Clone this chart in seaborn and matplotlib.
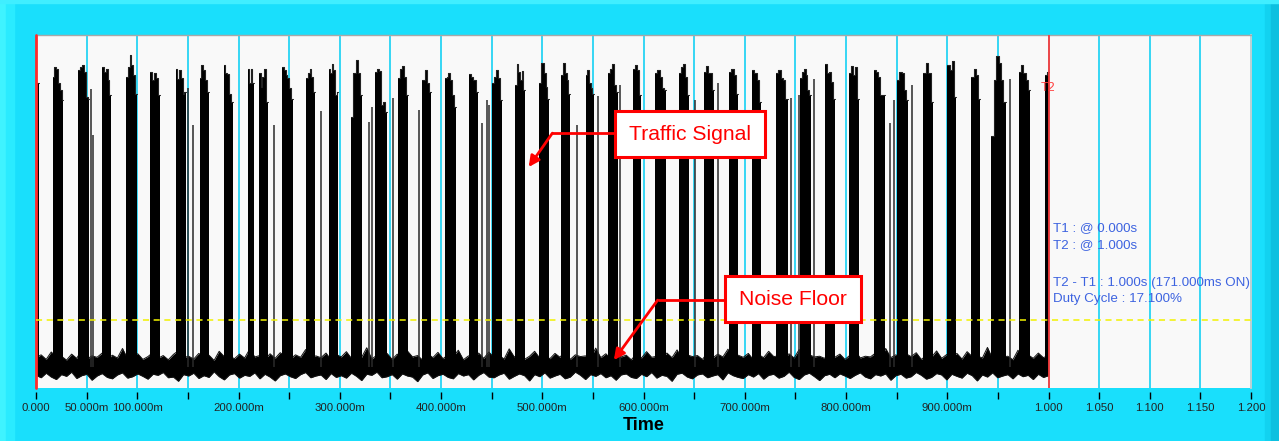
import numpy as np
import pandas as pd
import matplotlib
matplotlib.use("Agg")
import matplotlib.pyplot as plt
import seaborn as sns
from matplotlib.patches import Rectangle

# ---------------- data ----------------
tick_values = [0.0, 0.05, 0.10, 0.15, 0.20, 0.25, 0.30, 0.35, 0.40, 0.45, 0.50, 0.55,
               0.60, 0.65, 0.70, 0.75, 0.80, 0.85, 0.90, 0.95, 1.00, 1.05, 1.10, 1.15, 1.20]
tick_labels = ["0.000", "50.000m", "100.000m", "", "200.000m", "", "300.000m", "",
               "400.000m", "", "500.000m", "", "600.000m", "", "700.000m", "", "800.000m", "",
               "900.000m", "", "1.000", "1.050", "1.100", "1.150", "1.200"]

burst_start = [0.0000, 0.0165, 0.0418, 0.0653, 0.0890, 0.1128, 0.1378, 0.1615, 0.1853, 0.2090,
               0.2203, 0.2430, 0.2668, 0.2891, 0.3116, 0.3353, 0.3578, 0.3815, 0.4039, 0.4276,
               0.4500, 0.4731, 0.4968, 0.5190, 0.5430, 0.5651, 0.5892, 0.6116, 0.6353, 0.6600,
               0.6848, 0.7072, 0.7310, 0.7547, 0.7797, 0.8034, 0.8272, 0.8506, 0.8761, 0.9001,
               0.9238, 0.9436, 0.9710, 0.9963]
burst_end = [0.0030, 0.0270, 0.0527, 0.0742, 0.0996, 0.1226, 0.1484, 0.1704, 0.1942, 0.2149,
             0.2288, 0.2535, 0.2753, 0.2984, 0.3215, 0.3469, 0.3677, 0.3904, 0.4144, 0.4365,
             0.4606, 0.4830, 0.5067, 0.5275, 0.5512, 0.5744, 0.5974, 0.6222, 0.6452, 0.6699,
             0.6930, 0.7161, 0.7425, 0.7656, 0.7896, 0.8127, 0.8381, 0.8612, 0.8860, 0.9090,
             0.9327, 0.9578, 0.9815, 1.0000]
burst_tops = [
    [86.4],
    [88.2, 91.0, 90.5, 86.3, 84.4, 81.6],
    [90.1, 90.8, 91.5, 89.6, 82.5, 82.0],
    [90.9, 89.6, 90.5, 87.3, 83.0],
    [88.2, 90.8, 94.3, 91.5, 88.7, 83.4],
    [89.6, 87.3, 89.3, 87.9, 83.0],
    [90.5, 87.5, 90.1, 87.9, 83.4, 83.9],
    [87.9, 91.5, 90.1, 87.3, 83.9],
    [91.5, 89.1, 88.9, 83.4, 81.1],
    [90.5, 86.3, 90.5, 86.3],
    [89.1, 85.3, 88.2, 90.5, 81.1],
    [90.8, 90.1, 88.7, 87.9, 85.1, 81.8],
    [87.9, 89.1, 90.5, 88.2, 83.9],
    [90.3, 89.1, 91.8, 90.1, 83.0, 83.9],
    [76.8, 89.1, 92.9, 89.1, 83.0],
    [89.6, 90.3, 89.9, 80.2, 81.1, 78.3],
    [87.9, 90.5, 91.2, 88.2, 83.0],
    [87.3, 90.1, 86.3, 83.9],
    [87.9, 88.2, 89.1, 87.3, 83.0, 79.7],
    [88.9, 88.2, 87.3, 83.9],
    [86.3, 88.2, 90.1, 87.9, 81.6],
    [85.8, 91.8, 89.6, 87.3, 89.9, 84.4],
    [86.3, 92.0, 92.2, 89.1, 85.3, 82.0],
    [88.7, 92.0, 89.1, 87.3, 83.4],
    [88.7, 90.1, 86.3, 84.9, 83.4],
    [89.1, 90.5, 91.8, 85.8, 83.9],
    [90.5, 91.5, 90.1, 83.0],
    [89.1, 90.1, 88.2, 84.9, 84.4],
    [89.1, 90.8, 91.8, 88.2, 83.0],
    [89.6, 91.2, 89.1, 89.1, 84.4],
    [89.6, 90.5, 88.7, 83.4],
    [90.1, 89.1, 87.3, 81.1],
    [89.1, 90.1, 87.9, 87.3, 81.8],
    [87.9, 89.6, 90.3, 88.7, 84.4, 83.0],
    [91.8, 89.1, 89.6, 86.8, 81.8],
    [89.1, 91.2, 88.7, 91.0, 81.8],
    [90.1, 89.6, 88.2, 83.0, 83.0],
    [87.3, 89.6, 89.1, 84.4, 81.6],
    [89.1, 92.2, 89.1, 81.1],
    [91.5, 90.1, 92.7, 82.5],
    [88.2, 90.3, 88.7, 81.8],
    [71.3, 87.3, 94.0, 92.0, 87.3, 81.1],
    [89.6, 91.5, 89.1, 87.3, 84.4],
    [88.7, 89.5],
]

spike_t = [0.0544, 0.0564, 0.1503, 0.1553, 0.2354, 0.2819, 0.3284, 0.3314, 0.3528, 0.3781,
           0.4409, 0.4458, 0.4474, 0.5341, 0.5546, 0.5767, 0.6508, 0.6733, 0.7458, 0.7537,
           0.7688, 0.8430, 0.8470, 0.8655, 0.9617]
spike_level = [84.7, 71.7, 85.0, 74.5, 74.5, 78.5, 75.4, 79.6, 82.2, 78.8,
               75.1, 81.6, 80.2, 74.5, 82.7, 85.8, 81.6, 86.4, 82.2, 83.0,
               87.5, 75.1, 81.6, 85.8, 87.5]

noise_hi = [
    8.6, 9.4, 8.1, 10.2, 8.8, 9.0, 7.9, 9.6, 8.4, 10.8, 8.2, 9.1, 8.7, 9.9, 8.0, 9.3, 8.5, 11.2, 8.3, 9.0,
    9.7, 8.1, 8.9, 10.1, 8.4, 9.2, 8.0, 9.5, 10.6, 8.6, 9.0, 8.2, 9.8, 8.7, 9.3, 7.8, 10.4, 8.9, 9.1, 8.3,
    9.6, 8.5, 11.0, 8.8, 9.2, 8.1, 9.7, 8.4, 10.0, 9.0, 8.2, 9.4, 8.7, 10.9, 8.3, 9.1, 8.6, 9.9, 8.0, 9.5,
    8.8, 10.3, 8.4, 9.0, 8.7, 11.4, 8.2, 9.3, 8.9, 9.8, 8.1, 9.6, 8.5, 10.5, 8.8, 9.2, 7.9, 9.7, 8.6, 10.1,
    8.3, 9.4, 8.9, 10.7, 8.0, 9.1, 8.6, 9.9, 8.4, 10.2, 8.7, 9.3, 8.2, 11.1, 8.8, 9.5, 8.1, 9.0, 10.4, 8.5,
    9.2, 8.3, 9.8, 8.7, 10.6, 8.1, 9.4, 8.9, 9.1, 8.4, 11.3, 8.6, 9.7, 8.2, 10.0, 8.8, 9.3, 8.0, 9.6, 8.5,
    10.3, 8.7, 9.0, 8.3, 9.9, 8.6, 10.8, 8.2, 9.4, 8.9, 9.2, 8.1, 10.1, 8.5, 9.6, 8.8, 11.0, 8.4, 9.3, 8.7,
    9.8, 8.0, 9.5, 8.6, 10.4, 8.9, 9.1, 8.3, 9.7, 8.5, 10.9, 8.2, 9.4, 8.8, 9.0, 8.4, 10.2, 8.7, 9.6, 8.1,
    9.3, 10.6, 8.5, 9.0, 8.8, 9.9, 8.2, 11.2, 8.6, 9.4, 8.3, 9.7, 8.9, 10.0, 8.1, 9.2, 8.7, 10.5, 8.4, 9.5,
    8.6, 9.8, 8.2, 10.3, 8.9, 9.1, 8.5, 11.5, 8.3, 9.6, 8.8, 9.0, 8.0, 10.7, 8.7, 9.4, 8.4, 9.9, 8.6, 9.2,
]
noise_lo = [
    3.6, 2.9, 4.2, 3.1, 2.4, 3.8, 3.3, 4.5, 2.7, 3.5, 3.9, 2.2, 3.4, 4.1, 3.0, 2.6, 3.7, 4.3, 2.8, 3.2,
    4.0, 3.3, 2.5, 3.9, 3.6, 4.4, 2.9, 3.1, 1.9, 3.8, 3.4, 4.2, 2.7, 3.5, 3.0, 4.6, 3.2, 2.3, 3.7, 4.1,
    2.8, 3.6, 3.3, 4.3, 2.6, 3.9, 3.1, 2.0, 3.5, 4.0, 3.2, 2.7, 3.8, 4.4, 2.9, 3.4, 3.7, 2.4, 4.1, 3.0,
    3.5, 2.8, 4.2, 3.3, 2.1, 3.9, 3.6, 4.5, 2.9, 3.2, 3.8, 2.5, 4.0, 3.4, 3.1, 1.8, 3.7, 4.3, 2.7, 3.5,
    3.9, 3.0, 2.6, 4.1, 3.4, 3.8, 2.3, 3.6, 4.4, 3.1, 2.9, 3.7, 4.2, 2.5, 3.3, 4.0, 3.5, 2.0, 3.8, 3.2,
    4.3, 2.8, 3.4, 3.9, 2.6, 3.1, 4.5, 3.6, 2.4, 3.8, 3.3, 4.1, 2.9, 3.5, 2.2, 3.7, 4.0, 3.0, 2.7, 3.9,
    3.2, 4.4, 2.8, 3.6, 3.3, 1.9, 3.9, 4.2, 3.1, 2.6, 3.7, 4.0, 2.9, 3.4, 3.8, 2.3, 4.3, 3.5, 3.0, 2.7,
    3.8, 3.1, 4.1, 2.5, 3.6, 3.9, 2.8, 3.3, 4.5, 3.0, 2.4, 3.7, 4.2, 3.2, 2.1, 3.5, 3.9, 2.9, 4.0, 3.4,
    2.7, 3.6, 4.3, 3.1, 2.6, 3.8, 3.4, 4.0, 2.2, 3.5, 3.9, 2.8, 3.2, 4.4, 3.6, 2.5, 3.0, 4.1, 3.7, 2.3,
    3.9, 3.3, 2.8, 4.2, 3.5, 2.0, 3.7, 3.1, 4.3, 2.9, 3.4, 3.8, 2.6, 4.0, 3.2, 3.6, 2.4, 3.9, 3.0, 3.5,
]

threshold_level = 19.3
t1_time, t2_time = 0.0, 1.0
info_lines = ["T1 : @ 0.000s", "T2 : @ 1.000s", "T2 - T1 : 1.000s (171.000ms ON)", "Duty Cycle : 17.100%"]
info_levels = [45.3, 40.5, 29.7, 25.2]

# ---------------- style ----------------
sns.set_theme(style="white")
plt.rcParams["font.family"] = ["Liberation Sans", "DejaVu Sans"]

W, H = 1279, 441
fig = plt.figure(figsize=(W / 100, H / 100), dpi=100)
cyan = "#19dffc"
fig.patch.set_facecolor(cyan)
# edge shading of the panel
for (x0, w, c) in [(0, 6, "#3ff3ff"), (6, 8, "#2aebff"), (W - 14, 6, "#12d2f0"), (W - 8, 8, "#0cc0e0")]:
    fig.patches.append(Rectangle((x0 / W, 0), w / W, 1, transform=fig.transFigure, color=c, zorder=-5))
fig.patches.append(Rectangle((0, 1 - 3 / H), 1, 3 / H, transform=fig.transFigure, color="#40eeff", zorder=-5))

ax = fig.add_axes([36 / W, 1 - 388 / H, 1215 / W, 353 / H])
ax.set_facecolor("#f9f9f9")
ax.set_xlim(0, 1.2)
ax.set_ylim(0, 100)

# grid
ax.set_xticks(tick_values)
ax.set_xticklabels(tick_labels)
ax.grid(axis="x", color="#27d4f4", lw=1.3)
ax.grid(axis="y", visible=False)
ax.set_axisbelow(True)
ax.set_yticks([])

# noise floor
noise_t = np.linspace(0, 1.0, len(noise_hi))
noise_df = pd.DataFrame({"t": noise_t, "hi": noise_hi, "lo": noise_lo})
ax.fill_between(noise_df["t"], noise_df["lo"], noise_df["hi"], color="black", lw=0, zorder=2)
sns.lineplot(data=noise_df, x="t", y="hi", ax=ax, color="#111111", lw=0.7, zorder=2, legend=False)
sns.lineplot(data=noise_df, x="t", y="lo", ax=ax, color="#111111", lw=0.7, zorder=2, legend=False)

# bursts
rows = []
for i, (s, e, tops) in enumerate(zip(burst_start, burst_end, burst_tops)):
    edges = np.linspace(s, e, len(tops) + 1)
    vals = list(tops) + [tops[-1]]
    ax.fill_between(edges, 6, vals, step="post", color="black", lw=0, zorder=3)
    for x, v in zip(edges, vals):
        rows.append({"t": x, "top": v, "seg": i})
burst_df = pd.DataFrame(rows)
sns.lineplot(data=burst_df, x="t", y="top", units="seg", estimator=None, sort=False,
             drawstyle="steps-post", color="#222222", lw=0.8, ax=ax, zorder=3, legend=False)

# thin spikes
ax.vlines(spike_t, 6, spike_level, color="#2a2a2a", lw=1.1, zorder=3)

# markers
ax.axvline(t1_time, color="#ff2a2a", lw=2, zorder=6, clip_on=False)
ax.axvline(t2_time, color="#ff3a3a", lw=1.3, zorder=6)
ax.axhline(threshold_level, color="#f2f200", lw=1.1, ls=(0, (4, 3)), zorder=6)
ax.text(t2_time, 85.0, "T2", color="#ff4040", fontsize=9, ha="center", va="center", zorder=7)

for txt, lv in zip(info_lines, info_levels):
    ax.text(1.004, lv, txt, color="#3d63e0", fontsize=9.6, ha="left", va="center", zorder=7)

# annotations
box_kw = dict(boxstyle="square,pad=0.66", fc="white", ec="#ff0000", lw=2.2)
ax.text(0.6455, 71.95, "Traffic Signal", color="#ff0000", fontsize=15.2, ha="center", va="center",
        bbox=box_kw, zorder=8)
ax.plot([0.572, 0.510], [72.2, 72.2], color="#ff0000", lw=2, zorder=8, solid_capstyle="butt")
ax.annotate("", xy=(0.4866, 62.6), xytext=(0.510, 72.2),
            arrowprops=dict(arrowstyle="-|>", color="#ff0000", lw=2, mutation_scale=16, shrinkA=0, shrinkB=0),
            zorder=8)

ax.text(0.7475, 25.2, "Noise Floor", color="#ff0000", fontsize=15.2, ha="center", va="center",
        bbox=box_kw, zorder=8)
ax.plot([0.680, 0.614], [24.9, 24.9], color="#ff0000", lw=2, zorder=8, solid_capstyle="butt")
ax.annotate("", xy=(0.5707, 7.9), xytext=(0.614, 24.9),
            arrowprops=dict(arrowstyle="-|>", color="#ff0000", lw=2, mutation_scale=16, shrinkA=0, shrinkB=0),
            zorder=8)

# spines / ticks
ax.spines["top"].set_color("#a8a8a8")
ax.spines["top"].set_linewidth(1)
ax.spines["right"].set_color("#d0d0d0")
ax.spines["left"].set_visible(False)
ax.spines["bottom"].set_position(("outward", 3))
ax.spines["bottom"].set_visible(False)
ax.tick_params(axis="x", direction="out", length=5, width=1, color="black", labelsize=8.2,
               labelcolor="#222222", pad=2.5, bottom=True)
ax.set_xlabel("Time", fontsize=13, fontweight="bold", color="black", labelpad=3)
ax.set_ylabel("")

fig.savefig("out.png", dpi=100, facecolor=fig.get_facecolor())
